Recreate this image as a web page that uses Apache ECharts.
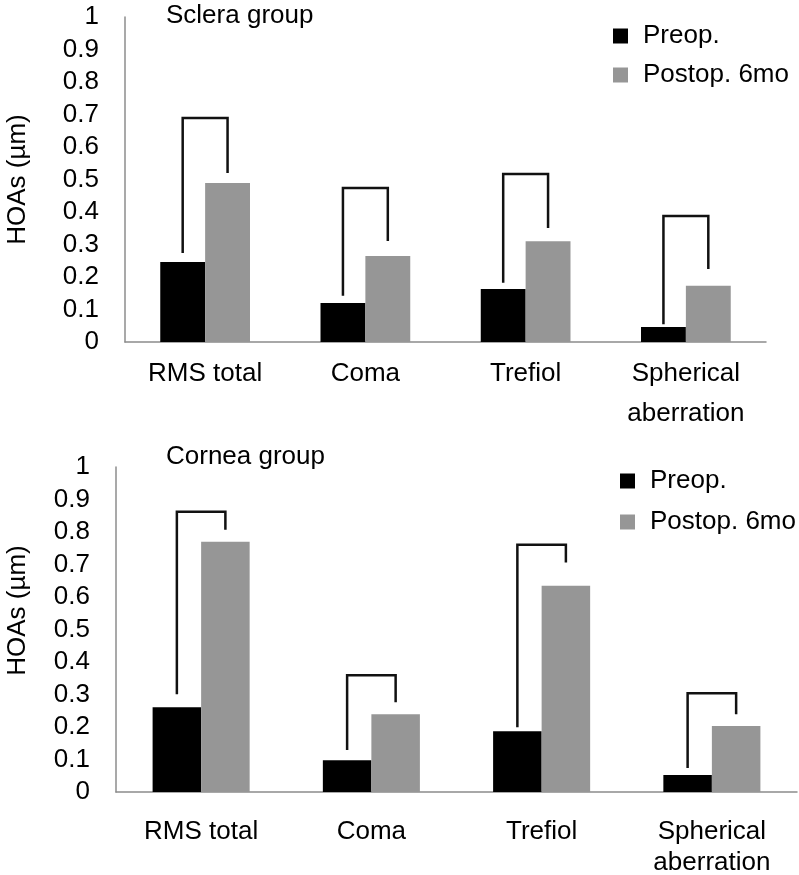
<!DOCTYPE html>
<html>
<head>
<meta charset="utf-8">
<script src="https://cdn.jsdelivr.net/npm/echarts@6/dist/echarts.min.js"></script>
<style>
html,body{margin:0;padding:0;background:#fff;}
#chart{width:799px;height:875px;}
</style>
</head>
<body>
<div id="chart"></div>
<script>
const categories = ['RMS total', 'Coma', 'Trefiol', 'Spherical\naberration'];
const seriesNames = ['Preop.', 'Postop. 6mo'];

const scleraPreop  = [0.246, 0.120, 0.163, 0.046];
const scleraPostop = [0.489, 0.265, 0.310, 0.173];
const scleraBracketLeft  = [0.274, 0.142, 0.182, 0.055];
const scleraBracketTop   = [0.689, 0.474, 0.517, 0.388];
const scleraBracketRight = [0.520, 0.311, 0.351, 0.225];

const corneaPreop  = [0.261, 0.098, 0.187, 0.052];
const corneaPostop = [0.770, 0.239, 0.635, 0.203];
const corneaBracketLeft  = [0.301, 0.129, 0.199, 0.074];
const corneaBracketTop   = [0.862, 0.359, 0.761, 0.304];
const corneaBracketRight = [0.807, 0.276, 0.706, 0.239];

const FONT = 'Liberation Sans, Arial, sans-serif';
const FS = 26;
const GAP_TOP = 0.44, GAP_BOT = 0.43;

function bracketData(l, t, r) {
  return l.map((v, i) => [i, v, t[i], r[i]]);
}
function makeBracket(gapFrac) {
  return function (params, api) {
    const i = api.value(0);
    const bandW = api.size([1, 0])[0];
    const barW = bandW * (1 - gapFrac) / 2;
    const pL = api.coord([i, api.value(1)]);
    const pT = api.coord([i, api.value(2)]);
    const pR = api.coord([i, api.value(3)]);
    const xl = pL[0] - barW / 2, xr = pL[0] + barW / 2;
    return {
      type: 'polyline',
      shape: { points: [[xl, pL[1]], [xl, pT[1]], [xr, pT[1]], [xr, pR[1]]] },
      style: { stroke: '#111', lineWidth: 2.5, fill: null }
    };
  };
}
function yAxis(gridIndex, gap, namePad) {
  return {
    type: 'value', gridIndex: gridIndex, min: 0, max: 1, interval: 0.1,
    name: 'HOAs (µm)', nameLocation: 'middle', nameGap: gap,
    nameTextStyle: { fontSize: FS, color: '#000', fontFamily: FONT, padding: namePad },
    axisLine: { show: true, lineStyle: { color: '#8c8c8c', width: 1.5 } },
    axisTick: { show: false },
    splitLine: { show: false },
    axisLabel: { fontSize: FS, color: '#000', fontFamily: FONT, margin: 26,
      formatter: v => String(+v.toFixed(1)) }
  };
}
function xAxis(gridIndex, margin, lh) {
  return {
    type: 'category', gridIndex: gridIndex, data: categories,
    axisLine: { show: true, lineStyle: { color: '#8c8c8c', width: 1.5 } },
    axisTick: { show: false },
    axisLabel: { fontSize: FS, color: '#000', fontFamily: FONT, margin: margin, lineHeight: lh, interval: 0 }
  };
}
function legend(left, top, gap) {
  return {
    data: seriesNames, orient: 'vertical', left: left, top: top, padding: 0,
    itemWidth: 15, itemHeight: 15, itemGap: gap, icon: 'rect',
    textStyle: { fontSize: FS, color: '#000', fontFamily: FONT, padding: [0, 0, 0, 10] }
  };
}

const chart = echarts.init(document.getElementById('chart'));
chart.setOption({
  animation: false,
  backgroundColor: '#fff',
  title: [
    { text: 'Sclera group', left: 166, top: 3, padding: 0,
      textStyle: { fontSize: FS, fontWeight: 'normal', color: '#000', fontFamily: FONT } },
    { text: 'Cornea group', left: 166, top: 444, padding: 0,
      textStyle: { fontSize: FS, fontWeight: 'normal', color: '#000', fontFamily: FONT } }
  ],
  legend: [legend(613, 23, 13), legend(620, 468, 15)],
  grid: [
    { left: 125, top: 17, right: 33, height: 325, outerBoundsMode: 'none', containLabel: false },
    { left: 116, top: 467, right: 2, height: 325, outerBoundsMode: 'none', containLabel: false }
  ],
  xAxis: [xAxis(0, 11.5, 40), xAxis(1, 24.5, 31)],
  yAxis: [yAxis(0, 94, [0, 0, 0, 0]), yAxis(1, 85, [0, 0, 0, 38])],
  series: [
    { name: seriesNames[0], type: 'bar', xAxisIndex: 0, yAxisIndex: 0, data: scleraPreop,
      itemStyle: { color: '#000' }, barGap: '0%', barCategoryGap: (GAP_TOP * 100) + '%' },
    { name: seriesNames[1], type: 'bar', xAxisIndex: 0, yAxisIndex: 0, data: scleraPostop,
      itemStyle: { color: '#969696' }, barGap: '0%', barCategoryGap: (GAP_TOP * 100) + '%' },
    { name: 'bracketSclera', type: 'custom', xAxisIndex: 0, yAxisIndex: 0, z: 5,
      renderItem: makeBracket(GAP_TOP), encode: { x: 0, y: [1, 2, 3] },
      data: bracketData(scleraBracketLeft, scleraBracketTop, scleraBracketRight) },
    { name: seriesNames[0], type: 'bar', xAxisIndex: 1, yAxisIndex: 1, data: corneaPreop,
      itemStyle: { color: '#000' }, barGap: '0%', barCategoryGap: (GAP_BOT * 100) + '%' },
    { name: seriesNames[1], type: 'bar', xAxisIndex: 1, yAxisIndex: 1, data: corneaPostop,
      itemStyle: { color: '#969696' }, barGap: '0%', barCategoryGap: (GAP_BOT * 100) + '%' },
    { name: 'bracketCornea', type: 'custom', xAxisIndex: 1, yAxisIndex: 1, z: 5,
      renderItem: makeBracket(GAP_BOT), encode: { x: 0, y: [1, 2, 3] },
      data: bracketData(corneaBracketLeft, corneaBracketTop, corneaBracketRight) }
  ]
});
</script>
</body>
</html>
